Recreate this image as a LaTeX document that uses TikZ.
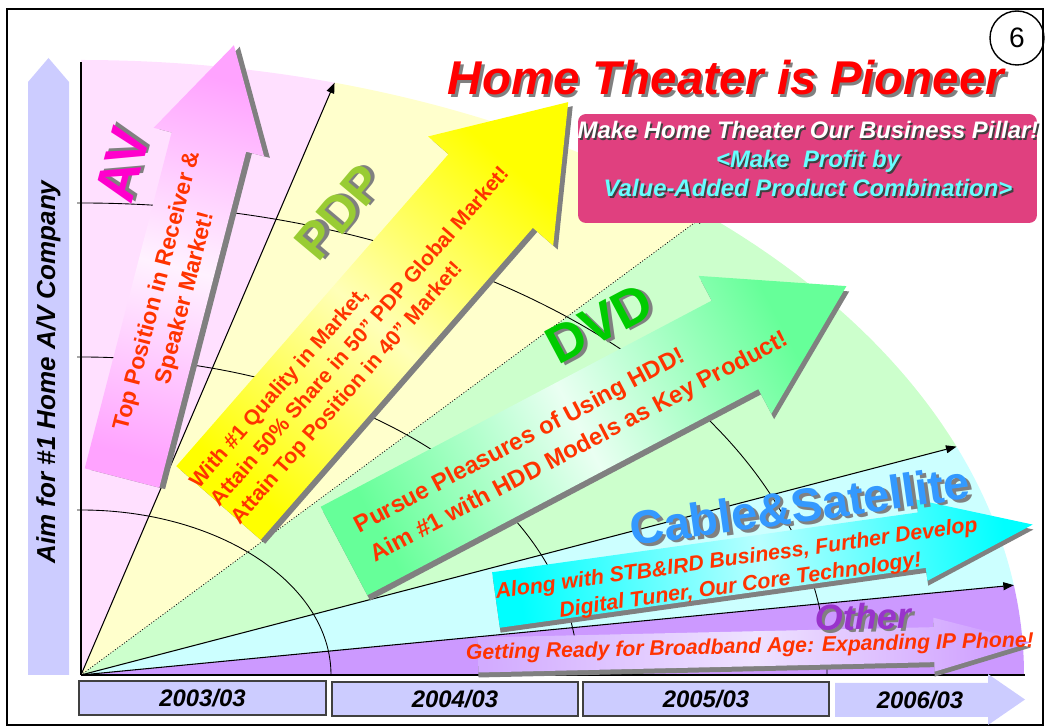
\documentclass[tikz,border=0pt]{standalone}
\usepackage{fontspec}
\setmainfont{Liberation Sans}
\usetikzlibrary{arrows.meta}

\definecolor{lavender}{HTML}{CCCCFF}
\definecolor{avbg}{HTML}{FFE0FF}
\definecolor{pdpbg}{HTML}{FFFFCC}
\definecolor{dvdbg}{HTML}{CCFFCC}
\definecolor{cablebg}{HTML}{CCFFFF}
\definecolor{otherbg}{HTML}{CC99FF}
\definecolor{avarrow}{HTML}{FFA3FF}
\definecolor{avlight}{HTML}{FFF2FF}
\definecolor{pdparrow}{HTML}{FFFF00}
\definecolor{pdplight}{HTML}{FFFFB8}
\definecolor{dvdarrow}{HTML}{66FF99}
\definecolor{dvdlight}{HTML}{EAFFF2}
\definecolor{cablearrow}{HTML}{00FFFF}
\definecolor{cablelight}{HTML}{B8FFFF}
\definecolor{otherarrow}{HTML}{D2ABFF}
\definecolor{otherlight}{HTML}{EEE2FF}
\definecolor{shadowgray}{HTML}{808080}
\definecolor{textred}{HTML}{FF3300}
\definecolor{titlered}{HTML}{FF0000}
\definecolor{avpink}{HTML}{FF00CC}
\definecolor{pdpgreen}{HTML}{99CC33}
\definecolor{dvdgreen}{HTML}{00CC00}
\definecolor{cableblue}{HTML}{3399FF}
\definecolor{otherpurple}{HTML}{9933CC}
\definecolor{boxpink}{HTML}{E0407F}
\definecolor{boxcyan}{HTML}{66FFFF}

% text with a drop shadow
\newcommand{\shtext}[3][1pt]{\leavevmode\rlap{\kern#1\raisebox{-#1}{\textcolor{shadowgray}{#3}}}\textcolor{#2}{#3}}
\newcommand{\darktext}[2]{\leavevmode\rlap{\kern1pt\raisebox{-1pt}{\textcolor{black!75}{#2}}}\textcolor{#1}{#2}}
% block arrow along x: shaft length, shaft half width, head half width, head length
\newcommand{\arrowpath}[4]{(0,-#2) -- (#1,-#2) -- (#1,-#3) -- (#1+#4,0) -- (#1,#3) -- (#1,#2) -- (0,#2) -- cycle}

\tikzset{
  ring/.style={black, line width=0.5pt},
  sector line/.style={black, line width=0.6pt, -{Triangle[length=6pt,width=4.5pt]}},
  datebox/.style={draw=black!75, line width=0.8pt, fill=lavender, minimum height=0.68cm},
  datetext/.style={font=\bfseries\itshape\fontsize{13.6}{16}\selectfont},
  arrowshadow/.style={fill=shadowgray},
  arrowtext/.style={transform shape, inner sep=0pt, text=textred},
  biglabel/.style={inner sep=0pt},
}

\begin{document}
\begin{tikzpicture}[x=0.02cm, y=0.02cm]
  \useasboundingbox (0,0) rectangle (1052,727);

  % frame and page number
  \draw[line width=1.1pt] (7,2) rectangle (1043,718);
  \node[draw, circle, line width=0.8pt, minimum size=1.08cm, inner sep=0pt, font=\fontsize{16}{18}\selectfont] (pagenum) at (1017,689) {6};

  % fan of business areas
  \foreach \a/\b/\c in {0/8.4/otherbg, 8.4/21.8/cablebg, 21.8/48.5/dvdbg, 48.5/74.4/pdpbg, 74.4/90/avbg} {
    \fill[\c] (81,52) -- +(\a:943 and 615) arc[start angle=\a, end angle=\b, x radius=943, y radius=615] -- cycle;
  }
  \foreach \rx/\ry in {250/165, 497/318, 746/472} {
    \draw[ring] (81+\rx,52) arc[start angle=0, end angle=90, x radius=\rx, y radius=\ry] -- ++(-4,0);
  }
  \foreach \a in {74.4, 21.8, 8.4} {
    \draw[sector line] (81,52) -- +(\a:943 and 615);
  }
  \draw[sector line, densely dotted, line width=0.4pt] (81,52) -- +(48.5:943 and 615);

  % axes
  \draw[line width=0.6pt] (81,52) -- (81,665);
  \draw[line width=1.1pt] (81,52) -- (1025,52);

  % vertical goal arrow
  \fill[lavender] (28,52) -- (28,645) -- (48.5,669) -- (69,645) -- (69,52) -- cycle;
  \node[rotate=90, font=\bfseries\itshape\fontsize{14.8}{17}\selectfont] (aimlabel) at (48.5,355) {Aim for \#1 Home A/V Company};

  % time line
  \node[datebox, minimum width=4.94cm] (d2003) at (202.5,29) {};
  \node[datebox, minimum width=4.92cm] (d2004) at (455,28) {};
  \node[datebox, minimum width=4.92cm] (d2005) at (706,28) {};
  \fill[lavender] (835,10) -- (988,10) -- (988,2) -- (1025,27.5) -- (988,53) -- (988,44) -- (835,44) -- cycle;
  \node[datetext] at (d2003) {2003/03};
  \node[datetext] at (d2004) {2004/03};
  \node[datetext] at (d2005) {2005/03};
  \node[datetext] (d2006) at (920,27) {2006/03};

  % AV arrow
  \begin{scope}[shift={(122,249)}, rotate=75.5]
    \fill[arrowshadow, shift={(0,-6)}] \arrowpath{347}{38.5}{57}{100};
    \shade[top color=avarrow, bottom color=avarrow, middle color=avlight, shading angle=-14.5] \arrowpath{347}{38.5}{57}{100};
    \node[arrowtext, align=center, font=\bfseries\fontsize{13}{16.5}\selectfont] (avtext) at (190,-2)
      {Top Position in Receiver \&\\Speaker Market!};
  \end{scope}

  % PDP arrow
  \begin{scope}[shift={(218.5,224)}, rotate=48.9]
    \fill[arrowshadow, shift={(0,-6)}] \arrowpath{414}{56}{83}{118};
    \shade[top color=pdparrow, bottom color=pdparrow, middle color=pdplight, shading angle=-41.1] \arrowpath{414}{56}{83}{118};
    \node[arrowtext, align=left, anchor=west, font=\bfseries\fontsize{12.1}{15.5}\selectfont] (pdptext) at (-3,2)
      {With \#1 Quality in Market,\\Attain 50\% Share in 50” PDP Global Market!\\Attain Top Position in 40” Market!};
  \end{scope}

  % DVD arrow
  \begin{scope}[shift={(344,176)}, rotate=27.8]
    \fill[arrowshadow, shift={(0,-6)}] \arrowpath{442}{50}{78}{126};
    \shade[top color=dvdarrow, bottom color=dvdarrow, middle color=dvdlight, shading angle=-62.2] \arrowpath{442}{50}{78}{126};
    \node[arrowtext, align=left, anchor=west, font=\bfseries\fontsize{13.6}{18.7}\selectfont] (dvdtext) at (22,-2)
      {Pursue Pleasures of Using HDD!\\Aim \#1 with HDD Models as Key Product!};
  \end{scope}

  % Cable & Satellite arrow
  \begin{scope}[shift={(496,127)}, rotate=8]
    \fill[arrowshadow, shift={(0,-5)}] \arrowpath{430}{28}{41}{112};
    \shade[top color=cablearrow, bottom color=cablearrow, middle color=cablelight, shading angle=-82] \arrowpath{430}{28}{41}{112};
    \node[arrowtext, align=center, font=\bfseries\itshape\fontsize{12.15}{15.3}\selectfont] (cabletext) at (244,-7)
      {Along with STB\&IRD Business, Further Develop\\Digital Tuner, Our Core Technology!};
  \end{scope}

  % Other arrow
  \begin{scope}[shift={(478,72)}, rotate=1.3]
    \fill[arrowshadow, shift={(0,-5)}] \arrowpath{456}{17.5}{27}{97};
    \shade[top color=otherbg, bottom color=otherarrow, middle color=otherlight, shading angle=-88.7] \arrowpath{456}{17.5}{27}{97};
    \node[arrowtext, font=\bfseries\itshape\fontsize{12.05}{14}\selectfont] (othertext) at (272,1)
      {Getting Ready for Broadband Age: Expanding IP Phone!};
  \end{scope}

  % area names
  \node[biglabel, rotate=75, font=\bfseries\fontsize{32}{34}\selectfont] (avlabel) at (124,562) {\shtext[1.8pt]{avpink}{AV}};
  \node[biglabel, rotate=50, font=\bfseries\fontsize{29}{32}\selectfont] (pdplabel) at (340,514) {\shtext[1.8pt]{pdpgreen}{PDP}};
  \node[biglabel, rotate=28, font=\bfseries\fontsize{30}{32}\selectfont] (dvdlabel) at (600,402) {\shtext[1.8pt]{dvdgreen}{DVD}};
  \node[biglabel, rotate=8, font=\bfseries\fontsize{26.8}{30}\selectfont] (cablelabel) at (800,220) {\shtext[1.8pt]{cableblue}{Cable\&Satellite}};
  \node[biglabel, rotate=1.5, font=\bfseries\itshape\fontsize{20.5}{24}\selectfont] (otherlabel) at (863,109) {\shtext[1.5pt]{otherpurple}{Other}};

  % headline and message box
  \node[anchor=base, font=\bfseries\itshape\fontsize{27}{30}\selectfont] (title) at (726,632) {\shtext[1.5pt]{titlered}{Home Theater is Pioneer}};
  \node[fill=boxpink, rounded corners=4.5pt, minimum width=9.18cm, minimum height=2.18cm] (pillarbox) at (807.5,558.5) {};
  \node[align=center, inner sep=0pt, font=\bfseries\itshape\fontsize{13.6}{16.4}\selectfont] (pillartext) at (808,567)
    {\darktext{white}{Make Home Theater Our Business Pillar!}\\\darktext{boxcyan}{<Make\ \ Profit by}\\\darktext{boxcyan}{Value-Added Product Combination>}};
\end{tikzpicture}
\end{document}
